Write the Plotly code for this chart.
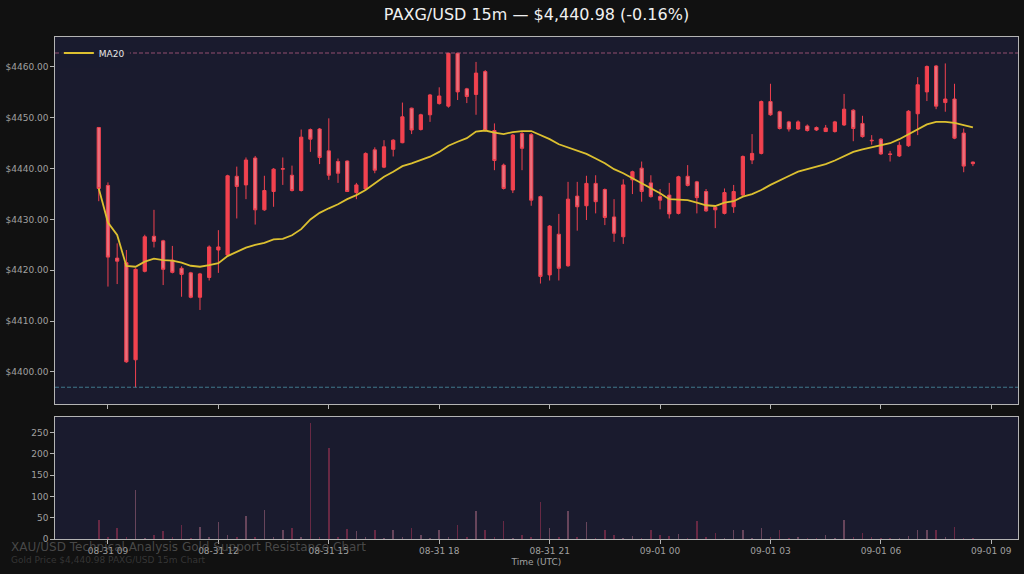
import pandas as pd
import plotly.graph_objects as go

# ---------------- data ----------------
start_time = "2025-08-31 08:45"
n_bars = 96
times = pd.date_range(start_time, periods=n_bars, freq="15min")

opens = [4448.1, 4436.7, 4422.4, 4421.5, 4402.4, 4419.8, 4426.7, 4425.8, 4422.0, 4420.4,
         4419.5, 4414.7, 4418.6, 4424.0, 4423.0, 4438.5, 4436.8, 4442.1, 4431.9, 4435.5,
         4439.9, 4438.7, 4435.7, 4447.7, 4447.8, 4443.5, 4441.4, 4441.5, 4435.3, 4436.0,
         4443.7, 4440.3, 4443.8, 4445.1, 4451.9, 4447.7, 4450.6, 4452.8, 4452.3, 4462.7,
         4455.7, 4454.6, 4459.1, 4447.5, 4440.7, 4435.8, 4446.9, 4446.7, 4434.5, 4419.1,
         4427.1, 4420.9, 4434.6, 4432.7, 4437.1, 4435.9, 4430.5, 4426.6, 4437.8, 4440.1,
         4437.2, 4434.5, 4434.8, 4431.2, 4438.5, 4437.4, 4435.5, 4432.4, 4431.2, 4432.5,
         4434.8, 4441.7, 4443.0, 4453.2, 4451.2, 4449.2, 4447.8, 4448.4, 4448.1, 4447.3,
         4447.3, 4448.6, 4451.5, 4448.9, 4445.6, 4445.8, 4442.9, 4442.5, 4444.5, 4450.8,
         4455.1, 4460.2, 4453.0, 4453.7, 4447.0, 4441.3]
highs = [4448.2, 4437.3, 4425.3, 4424.0, 4420.4, 4427.0, 4431.9, 4426.0, 4424.8, 4420.8,
         4419.7, 4419.5, 4424.9, 4427.9, 4438.8, 4440.4, 4442.2, 4442.5, 4438.6, 4440.1,
         4442.2, 4440.6, 4447.7, 4447.9, 4448.0, 4449.9, 4442.0, 4441.6, 4437.2, 4443.2,
         4444.2, 4445.6, 4445.8, 4453.0, 4452.0, 4450.8, 4454.7, 4456.0, 4462.75, 4462.75,
         4455.9, 4461.0, 4459.4, 4448.9, 4441.0, 4446.8, 4447.2, 4447.0, 4434.7, 4428.9,
         4431.1, 4437.4, 4437.4, 4438.6, 4438.7, 4436.1, 4434.0, 4437.9, 4439.6, 4441.4,
         4438.7, 4436.0, 4437.2, 4438.6, 4440.7, 4437.6, 4436.0, 4432.7, 4436.1, 4436.8,
         4442.6, 4446.8, 4453.4, 4456.7, 4451.4, 4449.4, 4449.5, 4448.7, 4448.3, 4448.6,
         4449.4, 4454.7, 4451.7, 4450.4, 4446.6, 4446.0, 4443.5, 4445.3, 4451.5, 4458.0,
         4460.3, 4460.4, 4460.7, 4456.7, 4447.9, 4441.4]
lows = [4433.6, 4416.8, 4417.3, 4401.8, 4397.0, 4419.6, 4424.5, 4417.1, 4419.4, 4414.8,
        4414.5, 4412.2, 4418.0, 4419.5, 4422.8, 4430.2, 4434.0, 4429.0, 4431.7, 4432.5,
        4436.8, 4435.5, 4435.5, 4443.3, 4440.9, 4437.8, 4437.2, 4435.4, 4434.0, 4435.8,
        4439.1, 4440.1, 4442.4, 4445.0, 4446.8, 4447.5, 4449.2, 4452.6, 4452.0, 4453.5,
        4452.9, 4450.6, 4447.3, 4439.7, 4435.9, 4435.2, 4439.7, 4432.7, 4417.4, 4418.0,
        4418.0, 4420.7, 4427.8, 4429.9, 4431.2, 4428.9, 4425.6, 4425.2, 4435.0, 4433.5,
        4434.3, 4432.0, 4430.2, 4431.0, 4436.5, 4431.2, 4431.5, 4428.3, 4431.0, 4431.3,
        4434.6, 4440.9, 4442.8, 4450.4, 4447.7, 4447.3, 4447.6, 4447.3, 4447.4, 4447.2,
        4447.1, 4448.4, 4445.4, 4446.1, 4444.7, 4442.7, 4441.4, 4442.3, 4444.3, 4446.6,
        4453.3, 4451.7, 4451.2, 4445.8, 4439.3, 4440.5]
closes = [4436.1, 4422.6, 4421.8, 4402.0, 4420.2, 4426.6, 4425.7, 4420.2, 4419.6, 4419.2,
          4414.7, 4419.3, 4424.6, 4424.6, 4438.6, 4436.5, 4441.7, 4431.9, 4435.7, 4439.9,
          4440.0, 4435.7, 4446.2, 4445.8, 4442.2, 4438.7, 4439.1, 4435.5, 4436.8, 4443.0,
          4439.7, 4444.3, 4445.6, 4450.2, 4447.6, 4450.6, 4454.5, 4454.3, 4462.7, 4455.1,
          4454.2, 4458.8, 4447.5, 4441.6, 4436.1, 4446.6, 4444.0, 4433.8, 4418.8, 4428.7,
          4420.4, 4434.0, 4432.5, 4437.1, 4433.5, 4430.4, 4427.3, 4436.8, 4439.4, 4435.5,
          4434.5, 4433.8, 4431.1, 4438.4, 4436.7, 4434.3, 4431.7, 4431.9, 4435.3, 4435.5,
          4442.4, 4443.0, 4453.2, 4450.6, 4447.9, 4447.8, 4449.2, 4447.5, 4447.6, 4448.0,
          4449.2, 4451.7, 4447.9, 4446.3, 4445.5, 4442.9, 4442.8, 4444.6, 4451.3, 4456.5,
          4460.1, 4452.3, 4453.7, 4446.0, 4440.5, 4440.98]
ma20 = [4436.1, 4429.4, 4426.95, 4420.85, 4420.7, 4421.7, 4422.3, 4422.0, 4421.9, 4421.5,
        4420.9, 4420.7, 4421.0, 4421.4, 4422.8, 4423.6, 4424.45, 4425.0, 4425.4, 4426.1,
        4426.2, 4426.9, 4428.1, 4430.0, 4431.3, 4432.2, 4433.0, 4434.0, 4434.8, 4435.8,
        4437.1, 4438.4, 4439.4, 4440.5, 4441.05, 4441.7, 4442.35, 4443.3, 4444.5, 4445.3,
        4446.0, 4447.3, 4447.5, 4447.1, 4446.8, 4447.2, 4447.4, 4447.4, 4446.6, 4445.8,
        4444.8, 4444.2, 4443.5, 4442.9, 4442.0, 4441.05, 4439.9, 4439.1, 4438.1, 4437.1,
        4436.25, 4435.15, 4434.0, 4433.9, 4433.8, 4433.3, 4432.8, 4432.65, 4433.3, 4433.6,
        4434.5, 4435.0, 4435.8, 4436.8, 4437.6, 4438.55, 4439.4, 4439.9, 4440.4, 4440.9,
        4441.6, 4442.5, 4443.3, 4443.8, 4444.2, 4444.5, 4445.0, 4445.8, 4446.8, 4447.8,
        4448.7, 4449.2, 4449.2, 4449.0, 4448.6, 4448.1]
volumes = [45, 5, 26, 4, 115, 3, 9, 18, 4, 32,
           3, 28, 5, 40, 10, 4, 53, 5, 67, 4,
           22, 26, 5, 271, 4, 214, 5, 24, 18, 4,
           20, 3, 22, 4, 26, 9, 3, 20, 4, 32,
           5, 65, 22, 4, 43, 3, 9, 4, 87, 26,
           4, 65, 5, 40, 3, 20, 9, 3, 7, 3,
           20, 9, 7, 12, 3, 43, 4, 14, 3, 20,
           20, 3, 26, 4, 20, 3, 5, 3, 2, 9,
           3, 45, 4, 14, 5, 3, 2, 3, 7, 22,
           22, 22, 4, 28, 3, 2]

title_text = "PAXG/USD 15m — $4,440.98 (-0.16%)"
watermark_main = "XAU/USD Technical Analysis Gold Support Resistance Chart"
watermark_sub = "Gold Price $4,440.98 PAXG/USD 15m Chart"
x_title = "Time (UTC)"
ma_name = "MA20"

# ---------------- styling ----------------
FIG_BG = "#111111"
AX_BG = "#1a1b2e"
SPINE = "#b4b4b4"
TICK_TXT = "#a0a0a0"
UP_COL = "#f2424f"
DN_LINE = "#f0404f"
DN_FILL = "#e9707c"
MA_COL = "#dcc030"
FONT = "DejaVu Sans"

resistance = max(highs)
support = min(lows)
vol_colors = ["rgba(230,140,165,0.38)" if c >= o else "rgba(200,60,95,0.45)"
              for o, c in zip(opens, closes)]

fig = go.Figure()
fig.add_trace(go.Candlestick(
    x=times, open=opens, high=highs, low=lows, close=closes,
    increasing=dict(line=dict(color=UP_COL, width=1), fillcolor=UP_COL),
    decreasing=dict(line=dict(color=DN_LINE, width=1), fillcolor=DN_FILL),
    whiskerwidth=0, showlegend=False, xaxis="x", yaxis="y", name="PAXG"))
fig.add_trace(go.Scatter(
    x=times, y=ma20, mode="lines", name=ma_name,
    line=dict(color=MA_COL, width=1.8), xaxis="x", yaxis="y"))
fig.add_trace(go.Bar(
    x=times, y=volumes, marker=dict(color=vol_colors, line=dict(width=0)),
    width=150000, showlegend=False, xaxis="x2", yaxis="y2", name="Volume"))

fig.add_shape(type="line", xref="x domain", yref="y", x0=0, x1=1,
              y0=resistance, y1=resistance,
              line=dict(color="rgba(200,100,140,0.7)", width=1, dash="4px,2px"))
fig.add_shape(type="line", xref="x domain", yref="y", x0=0, x1=1,
              y0=support, y1=support,
              line=dict(color="rgba(80,160,180,0.7)", width=1, dash="4px,2px"))

x_range = ["2025-08-31 07:33:40", "2025-09-01 09:43:30"]
common_x = dict(
    type="date", range=x_range, showgrid=False, zeroline=False,
    showline=True, mirror=True, linecolor=SPINE, linewidth=1.3,
    ticks="outside", ticklen=3.5, tickcolor=SPINE,
    tick0="2025-08-31 00:00", dtick=3 * 3600 * 1000,
    tickformat="%m-%d %H",
    tickfont=dict(family=FONT, size=9, color=TICK_TXT))

fig.update_layout(
    width=1024, height=574,
    paper_bgcolor=FIG_BG, plot_bgcolor=AX_BG,
    margin=dict(l=55, r=6, t=37, b=35),
    font=dict(family=FONT, color=TICK_TXT),
    title=dict(text=title_text, x=0.5, xref="paper", xanchor="center",
               y=1 - 14 / 574, yref="container", yanchor="middle",
               font=dict(family=FONT, size=16, color="#f0f0f0")),
    xaxis=dict(**common_x, domain=[0, 1], anchor="y", showticklabels=False,
               rangeslider=dict(visible=False)),
    xaxis2=dict(**common_x, domain=[0, 1], anchor="y2", matches="x",
                showticklabels=True,
                title=dict(text=x_title, standoff=3,
                           font=dict(family=FONT, size=9, color=TICK_TXT))),
    yaxis=dict(domain=[0.2689, 1], range=[4393.7, 4465.9], anchor="x",
               tick0=4400, dtick=10, tickprefix="$", tickformat=".2f",
               showgrid=False, zeroline=False, showline=True, mirror=True,
               linecolor=SPINE, linewidth=1.3, ticks="outside", ticklen=3.5,
               tickcolor=SPINE, tickfont=dict(family=FONT, size=9, color=TICK_TXT)),
    yaxis2=dict(domain=[0, 0.243], range=[0, 286], anchor="x2",
                tick0=0, dtick=50, showgrid=False, zeroline=False,
                showline=True, mirror=True, linecolor=SPINE, linewidth=1.3,
                ticks="outside", ticklen=3.5, tickcolor=SPINE,
                tickfont=dict(family=FONT, size=9, color=TICK_TXT)),
    legend=dict(x=0.004, y=0.997, xanchor="left", yanchor="top",
                bgcolor="rgba(26,27,46,0.85)", borderwidth=0,
                font=dict(family=FONT, size=9, color="#e6e6e6")),
    bargap=0,
    boxgap=0.5,
    showlegend=True,
)

fig.add_annotation(text=watermark_main, xref="paper", yref="paper",
                   x=(9 - 55) / 963, y=(539 - 547) / 502, xanchor="left", yanchor="middle",
                   showarrow=False, font=dict(family=FONT, size=12, color="rgba(110,110,110,0.6)"))
fig.add_annotation(text=watermark_sub, xref="paper", yref="paper",
                   x=(9 - 55) / 963, y=(539 - 560) / 502, xanchor="left", yanchor="middle",
                   showarrow=False, font=dict(family=FONT, size=9, color="rgba(70,70,70,0.7)"))

fig.write_html(
    "out.html",
    config={"displayModeBar": False},
    post_script="document.body.style.margin='0';document.body.style.background='#111111';",
)
